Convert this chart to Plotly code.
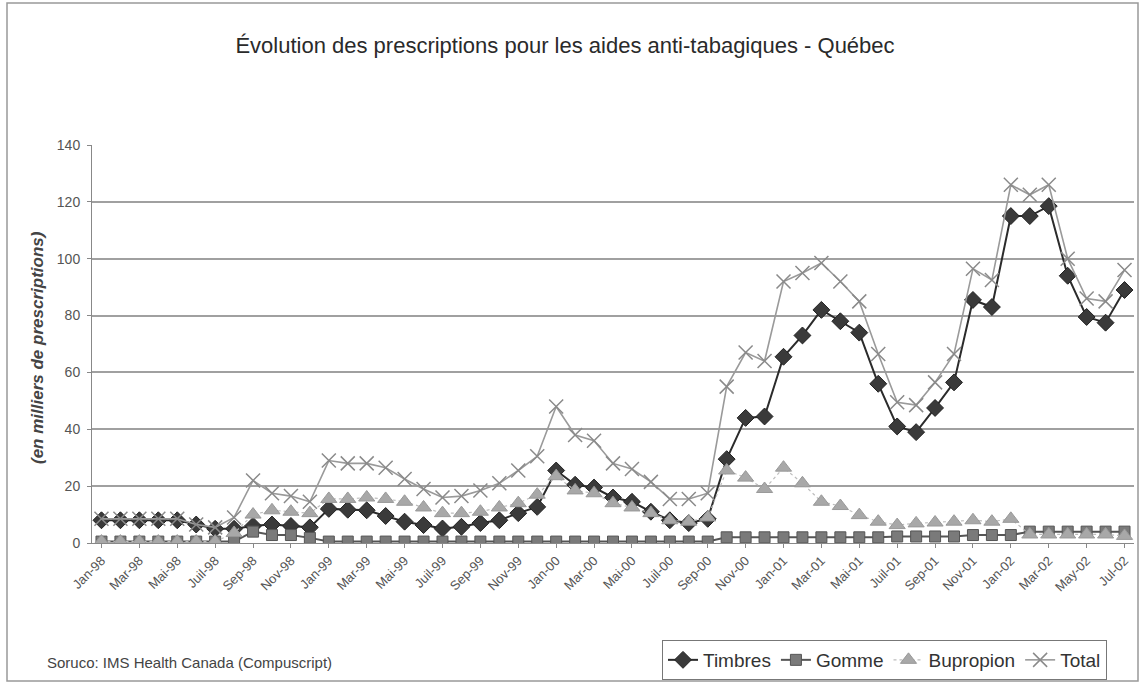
import plotly.graph_objects as go

fr_months = ["Jan", "Fév", "Mar", "Avr", "Mai", "Juin", "Juil", "Août", "Sep", "Oct", "Nov", "Déc"]
en_months = ["Jan", "Feb", "Mar", "Apr", "May", "Jun", "Jul"]

months = []
for yr in ["98", "99", "00", "01"]:
    for m in fr_months:
        months.append(f"{m}-{yr}")
for m in en_months:
    months.append(f"{m}-02")

timbres = [8, 8, 8, 8, 8, 6.5, 5, 5, 6, 6.5, 6, 5.5,
           12, 11.7, 11.5, 9.5, 7.5, 6.3, 5.1, 5.7, 7, 8, 10.5, 12.7,
           25.5, 20.5, 19.5, 16, 14.5, 11, 8, 7, 8.5, 29.5, 44, 44.5,
           65.5, 73, 82, 78, 74, 56, 41, 39, 47.5, 56.5, 85.5, 83,
           115, 115, 118.5, 94, 79.5, 77.5, 89]
gomme = [0.5, 0.5, 0.5, 0.5, 0.5, 0.5, 0.5, 0.5, 4, 2.8, 2.8, 1.8,
         0.5, 0.5, 0.5, 0.5, 0.5, 0.5, 0.5, 0.5, 0.5, 0.5, 0.5, 0.5,
         0.5, 0.5, 0.5, 0.5, 0.5, 0.5, 0.5, 0.5, 0.5, 2, 2, 2,
         2, 2, 2, 2, 2, 2, 2.3, 2.3, 2.3, 2.3, 2.8, 2.8,
         2.8, 4, 4, 4, 4, 4, 4]
bupropion = [0.5, 0.5, 0.5, 0.5, 0.5, 0.5, 0.5, 3.5, 10, 11.5, 11, 10.5,
             15.5, 15.5, 16, 15.5, 14.5, 12.5, 10.5, 10.5, 11, 12.5, 14, 17,
             23.5, 18.5, 17.5, 14, 12.5, 10.5, 8, 7.5, 9, 25.5, 23, 19,
             26.5, 21, 14.5, 13, 9.8, 7.5, 6.3, 6.9, 7.2, 7.5, 8, 7.5,
             8.5, 3, 3, 3, 3, 3, 2.5]
total = [8.5, 8.5, 8.5, 8.5, 8.5, 6.5, 5.5, 9, 22, 17.5, 16.5, 14.5,
         29, 28, 28, 26.5, 22.5, 19, 16, 16.5, 18.5, 21, 25.5, 30.5,
         48, 38, 36, 28, 26, 21.5, 15.5, 15.5, 17.5, 55, 67, 64,
         92, 95, 98.5, 92, 85, 66.5, 49.5, 48.5, 56.5, 66.5, 96.5, 92.5,
         126, 122.5, 126, 100, 86, 85, 96]

tick_labels = months[::2]
y_ticks = [0, 20, 40, 60, 80, 100, 120, 140]

fig = go.Figure()
fig.add_trace(go.Scatter(x=months, y=timbres, name="Timbres", mode="lines+markers",
                         line=dict(color="#2b2b2b", width=2),
                         marker=dict(symbol="diamond", size=13, color="#3a3a3a",
                                     line=dict(color="#222", width=1))))
fig.add_trace(go.Scatter(x=months, y=gomme, name="Gomme", mode="lines+markers",
                         line=dict(color="#555", width=2),
                         marker=dict(symbol="square", size=11, color="#7a7a7a",
                                     line=dict(color="#555", width=1))))
fig.add_trace(go.Scatter(x=months, y=bupropion, name="Bupropion", mode="lines+markers",
                         line=dict(color="#bdbdbd", width=1.2, dash="dot"),
                         marker=dict(symbol="triangle-up", size=14, color="#a8a8a8",
                                     line=dict(color="#999", width=1))))
fig.add_trace(go.Scatter(x=months, y=total, name="Total", mode="lines+markers",
                         line=dict(color="#9a9a9a", width=1.6),
                         marker=dict(symbol="x-thin", size=14,
                                     line=dict(color="#8a8a8a", width=1.5))))

L, R, T, B = 92, 5, 145, 142
W, H = 1139, 685
pw = W - L - R
ph = H - T - B

def px(x):
    return (x - L) / pw

def py(y):
    return (H - B - y) / ph

fig.update_layout(
    width=W, height=H,
    margin=dict(l=L, r=R, t=T, b=B, autoexpand=False),
    paper_bgcolor="white", plot_bgcolor="white",
    font=dict(family="Liberation Sans, Arial, sans-serif", color="#444"),
    title=dict(text="Évolution des prescriptions pour les aides anti-tabagiques - Québec",
               x=565 / W, xanchor="center", y=1 - 45 / H, yanchor="middle",
               font=dict(size=22, color="#2a2a2a")),
    xaxis=dict(type="category", range=[-0.5, len(months) - 0.5],
               tickmode="array", tickvals=tick_labels, ticktext=tick_labels,
               tickangle=-45, tickfont=dict(size=13, color="#555"),
               showgrid=False, showline=True, linecolor="#888", linewidth=1,
               ticks="outside", ticklen=4, tickcolor="#888"),
    yaxis=dict(range=[0, 140], tickvals=y_ticks, tickfont=dict(size=14, color="#555"),
               showgrid=True, gridcolor="#a0a0a0", gridwidth=1.5,
               showline=True, linecolor="#888", linewidth=1,
               ticks="outside", ticklen=4, tickcolor="#888", zeroline=False,
               ticklabelstandoff=4),
    legend=dict(orientation="h", x=px(662), y=py(640), xanchor="left", yanchor="top",
                bordercolor="#777", borderwidth=1, bgcolor="white",
                font=dict(size=19, color="#333"), itemwidth=30),
    showlegend=True,
)

fig.add_annotation(text="<b><i>(en milliers de prescriptions)</i></b>",
                   xref="paper", yref="paper", x=px(37), y=py(348),
                   xanchor="center", yanchor="middle",
                   textangle=-90, showarrow=False,
                   font=dict(size=17, color="#444"))
fig.add_annotation(text="Soruco: IMS Health Canada (Compuscript)",
                   xref="paper", yref="paper", x=px(45), y=py(662),
                   xanchor="left", yanchor="middle", showarrow=False,
                   font=dict(size=15, color="#444"))
fig.add_shape(type="rect", xref="paper", yref="paper",
              x0=px(7), x1=px(1138), y0=py(681), y1=py(3),
              line=dict(color="#999", width=1.5))

fig.write_html("out.html", config={"displayModeBar": False},
               post_script="document.body.style.margin='0';document.body.style.padding='0';")
